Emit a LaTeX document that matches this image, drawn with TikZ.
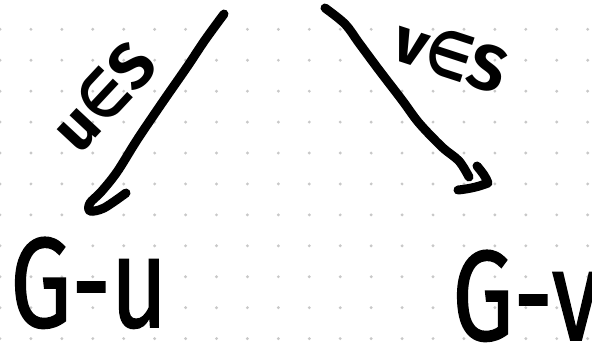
\documentclass[tikz,border=0pt]{standalone}
\usepackage{fontspec}
\setmainfont{Fira Sans}
\newfontfamily\symfont{DejaVu Sans}
\newfontfamily\thickfont[FakeBold=1.3]{Fira Sans}
\usepackage{graphicx}
\definecolor{dotgray}{HTML}{C8C8C8}
\newcommand{\elem}{\scalebox{0.8}[1]{\symfont ∈}}
\begin{document}
\begin{tikzpicture}[x=1pt,y=-1pt,
  pen/.style={line width=9pt,line cap=round,line join=round},
  bigtext/.style={inner sep=0pt,font=\fontsize{128}{128}\thickfont},
  midtext/.style={inner sep=0pt,font=\fontsize{64}{64}\selectfont\bfseries}]
\useasboundingbox (0,0) rectangle (592,346);
\fill[white] (0,0) rectangle (592,346);
% dot grid
\foreach \i in {0,...,19}{
  \foreach \j in {0,...,10}{
    \fill[dotgray] (30.93*\i, 29.3+30.93*\j) circle (1.6pt);
  }
}
% end points of the two arrows
\coordinate (ls) at (224,14);
\coordinate (le) at (126,193);
\coordinate (rs) at (325,8);
\coordinate (re) at (469,177);
% left arrow (with hooked head)
\draw[pen] plot[smooth,tension=0.55] coordinates
  {(ls) (205,40) (187,67) (162,103) (137,140) (117,172) (101,192) (90,203) (90,211) (104,208) (le)};
% right arrow
\draw[pen] plot[smooth,tension=0.55] coordinates
  {(rs) (345,24) (359,43) (379,70) (402,100) (419,123) (442,147) (459,161) (re)};
\draw[pen] (477,166) .. controls (482,172) and (486,177) .. (488,183)
  .. controls (478,187) and (468,189) .. (458,190);
% labels
\node[midtext,rotate=47] (us) at (103,96) {u\elem S};
\node[midtext,rotate=-18] (vs) at (451,55) {v\elem S};
% results
\node[bigtext,anchor=base west] (gu) at (10,327) {\scalebox{0.76}[1]{G-u}};
\node[bigtext,anchor=base west] (gv) at (452,340) {\scalebox{0.76}[1]{G-v}};
\end{tikzpicture}
\end{document}
